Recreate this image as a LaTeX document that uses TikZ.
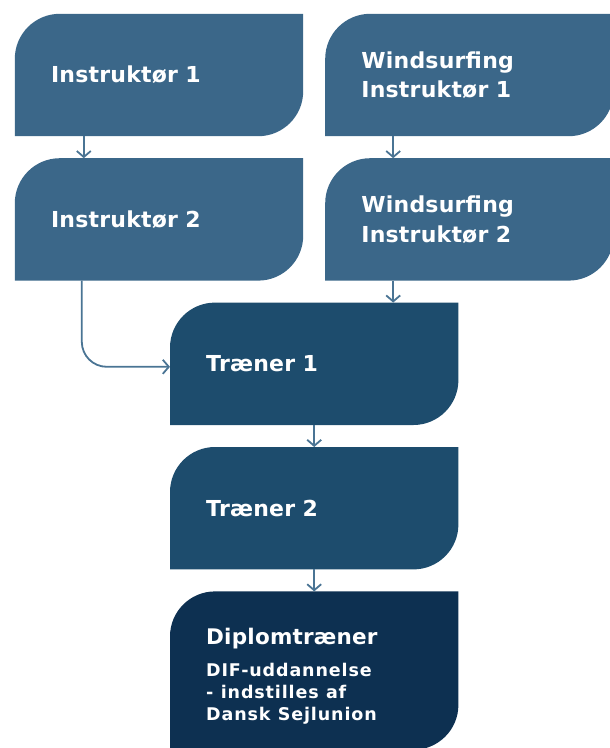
\documentclass[tikz,border=0pt]{standalone}
\usepackage{fontspec}
\setmainfont[LetterSpace=1]{DejaVu Sans}
\newfontfamily\notefont[LetterSpace=5]{DejaVu Sans}
\usepackage{tikz}
\usetikzlibrary{positioning, arrows.meta, calc, backgrounds}
\definecolor{lightbox}{HTML}{3B6789}
\definecolor{midbox}{HTML}{1D4C6D}
\definecolor{darkbox}{HTML}{0D3051}
\definecolor{linkblue}{HTML}{4A7494}

\begin{document}
\begin{tikzpicture}[
  node distance=22pt,
  box/.style={minimum width=288pt, minimum height=122pt, text width=216pt, inner xsep=36pt, inner ysep=0pt, align=left, text=white, font=\bfseries\fontsize{22}{29.5}\selectfont},
  arrow/.style={draw=linkblue, line width=1.8pt, -{Straight Barb[length=6pt,width=14pt]}}
]
  \useasboundingbox (0,0) rectangle (610pt,-748pt);
  \node[box] (ins1) at (159pt,-75pt) {Instruktør 1};
  \node[box, below=of ins1] (ins2) {Instruktør 2};
  \node[box, right=of ins1] (wind1) {Windsurfing\\Instruktør 1};
  \node[box, below=of wind1] (wind2) {Windsurfing\\Instruktør 2};
  \coordinate (gap) at ($(ins2.south east)!.5!(wind2.south west)$);
  \node[box, below=of gap] (tr1) {Træner 1};
  \node[box, below=of tr1] (tr2) {Træner 2};
  \node[box, below=of tr2, minimum height=158pt] (dip) {{\fontsize{21.5}{26}\selectfont\rule{0pt}{27pt}Diplomtræner\par}\vspace{10pt}
    {\notefont\bfseries\fontsize{17.5}{22}\selectfont DIF-uddannelse\\- indstilles af\\Dansk Sejlunion\par}};
  % leaf shaped boxes behind the text
  \begin{scope}[on background layer]
    \foreach \n/\c in {ins1/lightbox, ins2/lightbox, wind1/lightbox, wind2/lightbox, tr1/midbox, tr2/midbox, dip/darkbox}
      \fill[\c] (\n.south west) -- ([yshift=-45pt]\n.north west) arc[start angle=180, end angle=90, radius=45pt]
        -- (\n.north east) -- ([yshift=45pt]\n.south east) arc[start angle=0, end angle=-90, radius=45pt] -- cycle;
  \end{scope}
  \draw[arrow] ([xshift=69pt]ins1.south west) -- ([xshift=69pt]ins2.north west);
  \draw[arrow] ([xshift=68pt]wind1.south west) -- ([xshift=68pt]wind2.north west);
  \draw[arrow] ([xshift=68pt]wind2.south west) -- ([xshift=68pt]wind2.south west |- tr1.north);
  \draw[arrow, rounded corners=25pt] ([xshift=67pt]ins2.south west) |- ([yshift=-3pt]tr1.west);
  \draw[arrow] (tr1) -- (tr2);
  \draw[arrow] (tr2) -- (dip);
\end{tikzpicture}
\end{document}
